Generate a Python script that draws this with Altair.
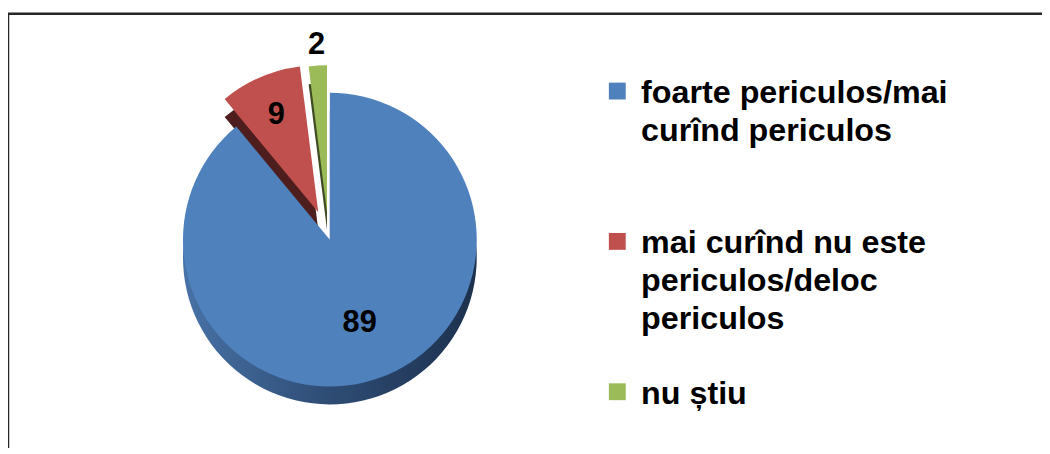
import math
import altair as alt
import pandas as pd

# ---- data ----
categories = [
    "foarte periculos/mai curînd periculos",
    "mai curînd nu este periculos/deloc periculos",
    "nu știu",
]
legend_labels = [
    "foarte periculos/mai\ncurînd periculos",
    "mai curînd nu este\npericulos/deloc\npericulos",
    "nu știu",
]
values = [89, 9, 2]

# ---- styles ----
top_colors = ["#4F81BD", "#C0504D", "#9BBB59"]
side_colors = ["#2f4e78", "#4d1e1d", "#3f4c24"]
explode = [4, 26, 24]
label_radius = [0.6, 0.72, 1.14]

W, H = 1042, 440
CX, CY, R, DEPTH = 323, 228, 148, 18
FONT = "Liberation Sans"
TOTAL = sum(values)

df = pd.DataFrame({
    "cat": categories,
    "label": legend_labels,
    "value": values,
    "order": list(range(len(values))),
})

base = (
    alt.Chart(df)
    .transform_window(cum="sum(value)", sort=[alt.SortField("order")])
    .transform_calculate(start="datum.cum - datum.value",
                         mid="datum.cum - datum.value / 2")
)
theta_scale = alt.Scale(domain=[0, TOTAL])


def slice_offset(i):
    before = sum(values[:i]) + values[i] / 2
    ang = before / TOTAL * 2 * math.pi
    return explode[i] * math.sin(ang), -explode[i] * math.cos(ang)


blue_side = alt.Gradient(
    gradient="linear", x1=0, x2=1, y1=0, y2=0,
    stops=[alt.GradientStop(color="#4872a6", offset=0),
           alt.GradientStop(color="#2e4c74", offset=0.5),
           alt.GradientStop(color="#1d314e", offset=1)],
)

sides, tops, labels = [], [], []
for i in range(len(values)):
    dx, dy = slice_offset(i)
    sel = base.transform_filter(alt.datum.order == i)
    enc = dict(
        theta=alt.Theta("start:Q", scale=theta_scale),
        theta2="cum:Q",
        x=alt.value(CX),
        y=alt.value(CY),
    )
    sides.append(
        sel.mark_arc(radius=R, fill=blue_side if i == 0 else side_colors[i],
                     xOffset=dx, yOffset=dy + DEPTH).encode(**enc)
    )
    tops.append(
        sel.mark_arc(radius=R, fill=top_colors[i],
                     xOffset=dx, yOffset=dy).encode(**enc)
    )
    labels.append(
        sel.mark_text(radius=R * label_radius[i], fontSize=31, fontWeight="bold",
                      font=FONT, color="black", xOffset=dx, yOffset=dy)
        .encode(theta=alt.Theta("mid:Q", scale=theta_scale),
                x=alt.value(CX), y=alt.value(CY), text="value:Q")
    )

border = alt.Chart(alt.Data(values=[{}])).mark_rect(
    fillOpacity=0, stroke="#262626", strokeWidth=2.5
).encode(x=alt.value(0), x2=alt.value(W + 40), y=alt.value(4), y2=alt.value(H + 40))

ypos = alt.Y("cat:N", scale=alt.Scale(type="point", domain=categories,
                                      range=[82, 385], padding=0), axis=None)
legend_sq = alt.Chart(df).mark_square(size=289, opacity=1).encode(
    x=alt.value(614), y=ypos,
    color=alt.Color("cat:N", scale=alt.Scale(domain=categories, range=top_colors),
                    legend=None),
)
legend_txt = alt.Chart(df).mark_text(
    align="left", baseline="alphabetic", dy=12, fontSize=32.5, fontWeight="bold",
    font=FONT, lineBreak="\n", lineHeight=38, color="black",
).encode(x=alt.value(638), y=ypos, text="label:N")

chart = alt.layer(border, *sides, *tops, *labels, legend_sq, legend_txt).properties(
    width=W, height=H, padding=0, autosize=alt.AutoSizeParams(type="none"),
).configure_view(stroke=None)

chart.save("out.html", embed_options={"renderer": "svg", "actions": False})
